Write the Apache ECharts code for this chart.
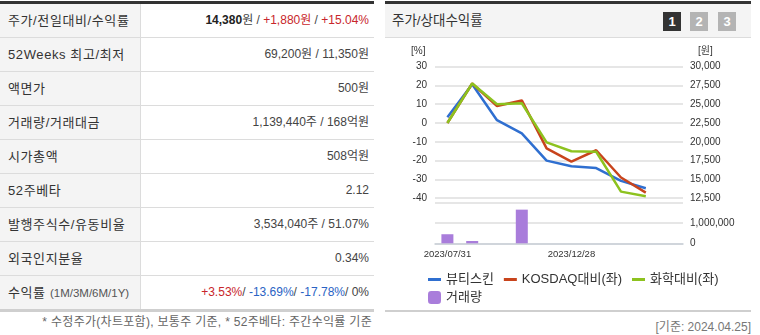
<!DOCTYPE html>
<html>
<head>
<meta charset="utf-8">
<script src="https://cdn.jsdelivr.net/npm/echarts@6/dist/echarts.min.js"></script>
<style>
  html, body { margin:0; padding:0; background:#fff; }
  body { width:760px; height:335px; position:relative; overflow:hidden;
         font-family:'Liberation Sans','Noto Sans CJK KR',sans-serif; color:#333; }
  #tbl { position:absolute; left:0; top:1px; width:374px; border-top:3px solid #333; }
  .row { height:33px; border-bottom:1px solid #dcdcdc; position:relative; }
  .row.last { border-bottom:3px solid #cfcfcf; }
  .lab { position:absolute; left:0; top:0; width:132px; height:33px; line-height:33px; padding-left:8px;
         background:#f4f4f4; border-right:1px solid #dcdcdc; font-size:13px; color:#333; letter-spacing:0.6px; white-space:nowrap; }
  .val { position:absolute; right:5px; top:0; height:33px; line-height:33px; font-size:12px; color:#444; }
  .red { color:#c8262b; }
  .blue { color:#2a63c4; }
  .small { font-size:11.5px; color:#555; letter-spacing:0; }
  #foot { position:absolute; right:388px; top:312px; font-size:12px; color:#666; white-space:nowrap; letter-spacing:0.3px; }
  #rp { position:absolute; left:385px; top:1px; width:366px; border-top:3px solid #333; }
  #hdr { height:33px; background:#f4f4f4; border-bottom:1px solid #dcdcdc; position:relative; }
  #hdr .t { position:absolute; left:7px; top:0; line-height:33px; font-size:13.5px; color:#333; }
  .btn { position:absolute; top:8px; width:18px; height:19px; line-height:19px; text-align:center;
         color:#fff; font-size:13px; font-weight:bold; }
  #chart { position:absolute; left:385px; top:38px; width:366px; height:272px; }
  #sep { position:absolute; left:385px; top:310px; width:366px; border-top:2px solid #cfcfcf; }
  #base { position:absolute; right:9px; top:317px; font-size:12px; color:#777; }
</style>
</head>
<body>
<div id="tbl">
  <div class="row"><div class="lab">주가/전일대비/수익률</div><div class="val"><b style="color:#222">14,380</b>원 / <span class="red">+1,880원</span> / <span class="red">+15.04%</span></div></div>
  <div class="row"><div class="lab">52Weeks 최고/최저</div><div class="val">69,200원 / 11,350원</div></div>
  <div class="row"><div class="lab">액면가</div><div class="val">500원</div></div>
  <div class="row"><div class="lab">거래량/거래대금</div><div class="val">1,139,440주 / 168억원</div></div>
  <div class="row"><div class="lab">시가총액</div><div class="val">508억원</div></div>
  <div class="row"><div class="lab">52주베타</div><div class="val">2.12</div></div>
  <div class="row"><div class="lab">발행주식수/유동비율</div><div class="val">3,534,040주 / 51.07%</div></div>
  <div class="row"><div class="lab">외국인지분율</div><div class="val">0.34%</div></div>
  <div class="row last"><div class="lab">수익률 <span class="small">(1M/3M/6M/1Y)</span></div><div class="val"><span class="red">+3.53%</span>/ <span class="blue">-13.69%</span>/ <span class="blue">-17.78%</span>/ 0%</div></div>
</div>
<div id="foot">* 수정주가(차트포함), 보통주 기준, * 52주베타: 주간수익률 기준</div>

<div id="rp">
  <div id="hdr"><div class="t">주가/상대수익률</div>
    <div class="btn" style="left:278px;background:#333;">1</div>
    <div class="btn" style="left:305px;background:#b4b4b4;">2</div>
    <div class="btn" style="left:333px;background:#b4b4b4;">3</div>
  </div>
</div>
<div id="chart"></div>
<div id="sep"></div>
<div id="base">[기준: 2024.04.25]</div>

<script>
// ---- data ----
const categories = ['2023/07/31','2023/08/31','2023/09/27','2023/10/31','2023/11/30','2023/12/28','2024/01/31','2024/02/29','2024/03/29','2024/04/25'];
const labelIdx = [0, 5];
const tickIdx = [0, 1, 6];
const priceValues = [23250, 27650, 22875, 21125, 17500, 16750, 16500, 14800, 13825, null];
const kosdaqRel = [0, 21, 9, 12, -13.5, -20.5, -14.5, -29, -37, null];
const chemRel = [0, 21, 10, 10.5, -10.3, -15, -15.3, -36.5, -39, null];
const volumeValues = [450000, 115000, 0, 1670000, 0, 0, 0, 0, 0, null];
const seriesNames = ['뷰티스킨', 'KOSDAQ대비(좌)', '화학대비(좌)', '거래량'];
const pctTicks = { min: -40, max: 30, interval: 10 };
const priceTicks = { min: 12500, max: 30000, interval: 2500 };
const volTicks = { min: 0, max: 2000000, interval: 1000000 };

const FONT = "'Liberation Sans','Noto Sans CJK KR',sans-serif";
const colors = { blue:'#2f6fd0', red:'#c8441c', green:'#8dc21f', purple:'#a97ddb' };
const fmt = v => v.toLocaleString('en-US');

const chart = echarts.init(document.getElementById('chart'), null, { renderer:'canvas' });
const axisLbl = { color:'#333', fontSize:10, fontFamily:FONT };
chart.setOption({
  animation:false,
  textStyle:{ fontFamily:FONT },
  grid:[
    { left:50, top:28.6, width:248, height:131.6, outerBoundsMode:'none', containLabel:false },
    { left:50, top:165, width:248, height:40.3, outerBoundsMode:'none', containLabel:false }
  ],
  xAxis:[
    { type:'category', gridIndex:0, data:categories, boundaryGap:true, show:false },
    { type:'category', gridIndex:1, data:categories, boundaryGap:true,
      axisLine:{ lineStyle:{ color:'#c9d0d8', width:1.5 } },
      axisTick:{ length:5, lineStyle:{ color:'#c9d0d8', width:1.5 }, interval:(i)=>tickIdx.includes(i) },
      axisLabel:{ color:'#333', fontSize:9.5, fontFamily:FONT, margin:6, interval:(i)=>labelIdx.includes(i) },
      splitLine:{ show:false } }
  ],
  yAxis:[
    { type:'value', gridIndex:0, position:'left', min:pctTicks.min, max:pctTicks.max, interval:pctTicks.interval,
      axisLine:{show:false}, axisTick:{show:false},
      axisLabel:Object.assign({ margin:8 }, axisLbl),
      splitLine:{ lineStyle:{ color:'#e6e6e6', width:2 } } },
    { type:'value', gridIndex:0, position:'right', min:priceTicks.min, max:priceTicks.max, interval:priceTicks.interval,
      axisLine:{show:false}, axisTick:{show:false},
      axisLabel:Object.assign({ margin:7, formatter:fmt }, axisLbl),
      splitLine:{ show:false } },
    { type:'value', gridIndex:1, position:'right', min:volTicks.min, max:volTicks.max, interval:volTicks.interval,
      axisLine:{show:false}, axisTick:{show:false},
      axisLabel:Object.assign({ margin:7, formatter:v => v >= volTicks.max ? '' : fmt(v) }, axisLbl),
      splitLine:{ lineStyle:{ color:'#e6e6e6', width:2 } } }
  ],
  legend:[
    { data:seriesNames.slice(0,3), left:38, top:230, icon:'rect', itemWidth:13, itemHeight:3, itemGap:10,
      textStyle:{ color:'#333', fontSize:13, fontFamily:FONT }, selectedMode:false },
    { data:[seriesNames[3]], left:38, top:248, icon:'roundRect', itemWidth:13, itemHeight:13, itemGap:10,
      textStyle:{ color:'#333', fontSize:13, fontFamily:FONT }, selectedMode:false }
  ],
  graphic:[
    { type:'text', left:26, top:8, style:{ text:'[%]', fill:'#333', font:'10px '+FONT } },
    { type:'text', left:313, top:8, style:{ text:'[원]', fill:'#333', font:'10px '+FONT } }
  ],
  series:[
    { name:seriesNames[3], type:'bar', xAxisIndex:1, yAxisIndex:2, data:volumeValues, barWidth:12,
      itemStyle:{ color:colors.purple } },
    { name:seriesNames[0], type:'line', xAxisIndex:0, yAxisIndex:1, data:priceValues, showSymbol:false,
      lineStyle:{ color:colors.blue, width:2.5 }, itemStyle:{ color:colors.blue } },
    { name:seriesNames[1], type:'line', xAxisIndex:0, yAxisIndex:0, data:kosdaqRel, showSymbol:false,
      lineStyle:{ color:colors.red, width:2.5 }, itemStyle:{ color:colors.red } },
    { name:seriesNames[2], type:'line', xAxisIndex:0, yAxisIndex:0, data:chemRel, showSymbol:false,
      lineStyle:{ color:colors.green, width:2.5 }, itemStyle:{ color:colors.green } }
  ]
});
</script>
</body>
</html>
